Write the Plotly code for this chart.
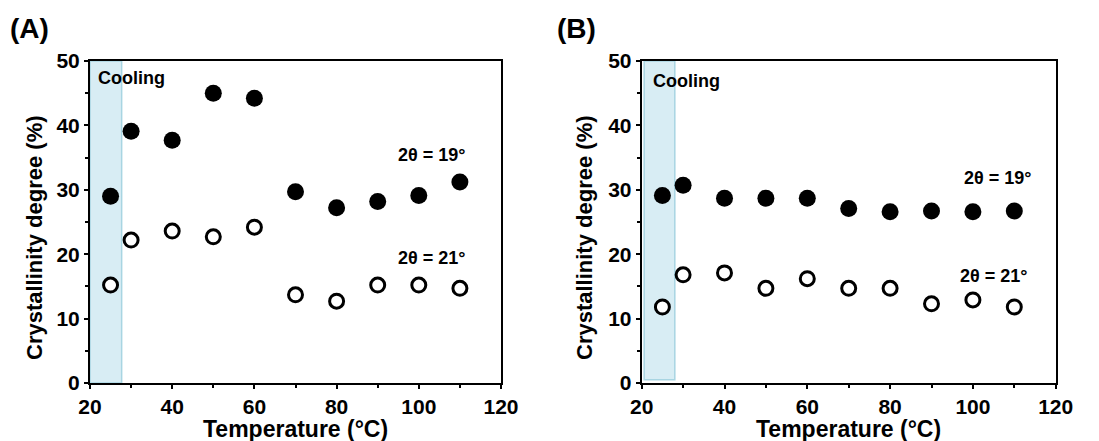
import plotly.graph_objects as go

temps = [25, 30, 40, 50, 60, 70, 80, 90, 100, 110]
a_19 = [29.0, 39.1, 37.7, 45.0, 44.2, 29.7, 27.2, 28.2, 29.1, 31.2]
a_21 = [15.2, 22.2, 23.6, 22.7, 24.2, 13.7, 12.7, 15.2, 15.2, 14.7]
b_19 = [29.1, 30.7, 28.7, 28.7, 28.7, 27.1, 26.6, 26.7, 26.6, 26.7]
b_21 = [11.8, 16.8, 17.1, 14.7, 16.2, 14.7, 14.7, 12.3, 12.9, 11.8]

FONT = "Liberation Sans"
OFF = 8  # page body margin
W, H = 1099 - OFF, 441 - OFF

def px(sx):
    return (sx - OFF) / W

def py(sy):
    return 1 - (sy - OFF) / H

fig = go.Figure()

def add_panel(fig, xa, ya, filled, hollow):
    fig.add_trace(go.Scatter(x=temps, y=filled, mode="markers", xaxis=xa, yaxis=ya,
                             marker=dict(symbol="circle", size=17, color="black",
                                         line=dict(color="black", width=0)),
                             showlegend=False))
    fig.add_trace(go.Scatter(x=temps, y=hollow, mode="markers", xaxis=xa, yaxis=ya,
                             marker=dict(symbol="circle", size=14, color="white",
                                         line=dict(color="black", width=3)),
                             showlegend=False))

add_panel(fig, "x", "y", a_19, a_21)
add_panel(fig, "x2", "y2", b_19, b_21)

ydom = [py(383), py(61)]
xdomA = [px(90), px(501)]
xdomB = [px(641.7), px(1055.7)]

axis_common = dict(
    showline=True, linewidth=2, linecolor="black", mirror=True,
    ticks="outside", ticklen=4, tickwidth=2, tickcolor="black",
    showgrid=False, zeroline=False, automargin=False,
    tickfont=dict(family=FONT, size=21, color="black", weight="bold"),
)

xcommon = dict(axis_common, range=[20, 120], tickvals=[20, 40, 60, 80, 100, 120],
               minor=dict(tickvals=[30, 50, 70, 90, 110], ticks="outside", ticklen=3,
                          tickwidth=2, tickcolor="black"))
ycommon = dict(axis_common, range=[0, 50], tickvals=[0, 10, 20, 30, 40, 50],
               minor=dict(tickvals=[5, 15, 25, 35, 45], ticks="outside", ticklen=3,
                          tickwidth=2, tickcolor="black"))

fig.update_layout(
    width=W, height=H,
    margin=dict(l=0, r=0, t=0, b=0),
    paper_bgcolor="white", plot_bgcolor="white",
    xaxis=dict(xcommon, domain=xdomA, anchor="y"),
    yaxis=dict(ycommon, domain=ydom, anchor="x"),
    xaxis2=dict(xcommon, domain=xdomB, anchor="y2"),
    yaxis2=dict(ycommon, domain=ydom, anchor="x2"),
)

# cooling bands
fig.add_shape(type="rect", xref="x", yref="y", x0=20, x1=27.7, y0=0, y1=50,
              fillcolor="#d8edf4", line=dict(color="#a8d5e2", width=1.5), layer="below")
fig.add_shape(type="rect", xref="x2", yref="y2", x0=20.6, x1=28, y0=0.5, y1=50,
              fillcolor="#d8edf4", line=dict(color="#a8d5e2", width=1.5), layer="below")

ann_font = dict(family=FONT, size=18, color="black", weight="bold")
anns = [
    dict(x=21.5, y=47.3, xref="x", yref="y", text="Cooling", xanchor="left"),
    dict(x=103, y=35.4, xref="x", yref="y", text="2θ = 19°"),
    dict(x=103, y=19.4, xref="x", yref="y", text="2θ = 21°"),
    dict(x=22.2, y=46.9, xref="x2", yref="y2", text="Cooling", xanchor="left"),
    dict(x=106, y=31.8, xref="x2", yref="y2", text="2θ = 19°"),
    dict(x=105, y=16.6, xref="x2", yref="y2", text="2θ = 21°"),
]
for a in anns:
    fig.add_annotation(showarrow=False, font=ann_font, **a)

xt_font = dict(family=FONT, size=23, color="black", weight="bold")
yt_font = dict(family=FONT, size=22, color="black", weight="bold")
for cx, lx in [((90 + 501) / 2, 35), ((641.7 + 1055.7) / 2, 585)]:
    fig.add_annotation(x=px(cx), y=py(429), xref="paper", yref="paper",
                       text="Temperature (°C)", showarrow=False,
                       xanchor="center", yanchor="middle", font=xt_font)
    fig.add_annotation(x=px(lx), y=py(238), xref="paper", yref="paper",
                       text="Crystallinity degree (%)", showarrow=False, textangle=-90,
                       xanchor="center", yanchor="middle", font=yt_font)

panel_font = dict(family=FONT, size=28, color="black", weight="bold")
fig.add_annotation(x=px(8), y=py(29), xref="paper", yref="paper", text="(A)",
                   showarrow=False, xanchor="left", yanchor="middle", font=panel_font)
fig.add_annotation(x=px(555), y=py(29), xref="paper", yref="paper", text="(B)",
                   showarrow=False, xanchor="left", yanchor="middle", font=panel_font)

fig.write_html("out.html")
